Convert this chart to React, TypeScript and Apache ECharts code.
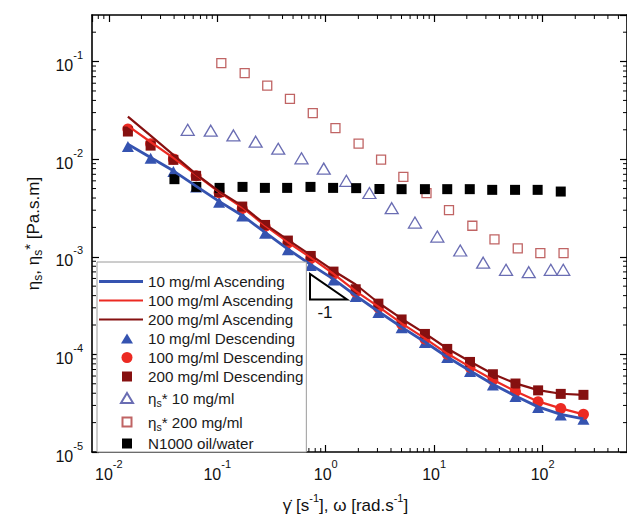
import React, { useEffect, useRef } from "react";
import * as echarts from "echarts";

const FONT = '"Liberation Sans", Arial, Helvetica, sans-serif';

// Steady shear sweeps (shear rate, s^-1) shared by the ascending / descending runs
const shearRate = [0.015, 0.0243, 0.0394, 0.0638, 0.104, 0.17, 0.276, 0.448, 0.728, 1.18, 1.89, 3.06, 5.01, 8.22, 13.2, 21.4, 34.8, 56.2, 90.9, 147, 238];

const asc10 = [0.0142, 0.0104, 0.0076, 0.0053, 0.0037, 0.00265, 0.00178, 0.0012, 0.00083, 0.00059, 0.0004, 0.000275, 0.00019, 0.000134, 0.000094, 0.000068, 0.0000495, 0.0000375, 0.000029, 0.0000243, 0.0000218];
const asc100 = [0.0219, 0.015, 0.0103, 0.0069, 0.0046, 0.0032, 0.00209, 0.00141, 0.00098, 0.00067, 0.000445, 0.000308, 0.000208, 0.000146, 0.000102, 0.0000745, 0.000055, 0.0000418, 0.000033, 0.000028, 0.0000243];
const asc200 = [0.0273, 0.01745, 0.01107, 0.00702, 0.00468, 0.00332, 0.00216, 0.00149, 0.00104, 0.00072, 0.00052, 0.000338, 0.000232, 0.000164, 0.000115, 0.0000845, 0.000063, 0.0000505, 0.000043, 0.0000395, 0.0000385];

const desc10 = [0.0135, 0.0102, 0.00746, 0.0052, 0.00362, 0.00261, 0.001745, 0.001178, 0.000813, 0.00058, 0.000391, 0.000269, 0.000188, 0.000132, 0.0000927, 0.0000667, 0.0000487, 0.000037, 0.0000285, 0.000024, 0.0000217];
const desc100 = [0.0204, 0.01435, 0.01007, 0.00675, 0.00452, 0.00313, 0.00205, 0.001387, 0.000963, 0.000661, 0.000437, 0.000303, 0.000205, 0.000144, 0.000101, 0.000074, 0.0000548, 0.0000416, 0.0000328, 0.0000279, 0.0000243];
const desc200 = [0.0192, 0.01377, 0.00984, 0.00675, 0.00459, 0.00327, 0.00212, 0.001466, 0.00102, 0.000705, 0.000465, 0.000331, 0.000228, 0.000162, 0.0001138, 0.0000837, 0.0000626, 0.0000503, 0.0000428, 0.0000394, 0.0000385];

// Oscillatory sweeps (angular frequency, rad/s)
const omega10 = [0.0534, 0.0871, 0.141, 0.226, 0.365, 0.598, 0.959, 1.55, 2.53, 4.06, 6.65, 10.7, 17.4, 28.3, 46.0, 74.5, 119, 155];
const etaStar10 = [0.02, 0.0196, 0.0175, 0.0151, 0.0128, 0.0102, 0.008, 0.006, 0.0045, 0.00315, 0.00224, 0.00161, 0.00116, 0.00087, 0.000735, 0.000695, 0.000735, 0.000735];
const omega200 = [0.109, 0.179, 0.289, 0.468, 0.76, 1.23, 2.01, 3.24, 5.2, 8.5, 13.7, 22.5, 36.0, 59.0, 95.3, 156];
const etaStar200 = [0.0964, 0.0761, 0.0568, 0.0415, 0.0296, 0.0208, 0.0144, 0.0099, 0.0066, 0.0045, 0.003, 0.00208, 0.00151, 0.00122, 0.00109, 0.00109];

// Reference oil/water interface
const oilRate = [0.0403, 0.0641, 0.105, 0.171, 0.275, 0.441, 0.724, 1.17, 1.91, 3.13, 5.01, 8.22, 13.2, 21.3, 34.3, 55.7, 90.0, 147];
const oilEta = [0.00624, 0.0052, 0.00508, 0.0052, 0.00508, 0.00508, 0.0052, 0.00508, 0.00505, 0.00495, 0.00493, 0.00493, 0.00493, 0.00493, 0.00485, 0.00485, 0.00485, 0.00466];

const X_MIN = 0.007;
const X_MAX = 600;
const Y_MIN = 1e-5;
const Y_MAX = 0.3;

const BLUE = "#3553b0";
const RED = "#ec2a22";
const DARK = "#861010";
const HOLLOW_BLUE = "#6a6db3";
const HOLLOW_RED = "#c06464";

const NAMES = {
  a10: "10 mg/ml Ascending",
  a100: "100 mg/ml Ascending",
  a200: "200 mg/ml Ascending",
  d10: "10 mg/ml Descending",
  d100: "100 mg/ml Descending",
  d200: "200 mg/ml Descending",
  e10: "ηs* 10 mg/ml",
  e200: "ηs* 200 mg/ml",
  oil: "N1000 oil/water",
};

const zip = (xs: number[], ys: number[]) => xs.map((x, i) => [x, ys[i]]);

// 2..9 x 10^k positions inside a range, for the minor tick marks of a log axis
function minorTicks(lo: number, hi: number) {
  const out: number[] = [];
  for (let k = -6; k <= 3; k++) {
    for (let m = 2; m <= 9; m++) {
      const v = m * Math.pow(10, k);
      if (v > lo * 1.0001 && v < hi * 0.9999) out.push(v);
    }
  }
  return out;
}

const powerLabel = (v: number) => {
  const l = Math.log10(v);
  const e = Math.round(l);
  if (Math.abs(l - e) > 1e-6) return "";
  return `{b|10}{s|${e}}`;
};

const powerRich = {
  b: { fontSize: 16, lineHeight: 24, verticalAlign: "bottom", fontFamily: FONT, color: "#111" },
  s: { fontSize: 11, lineHeight: 12, verticalAlign: "top", fontFamily: FONT, color: "#111" },
};

const TICK = { show: true, inside: true, length: 7, lineStyle: { color: "#000", width: 1.2 } };
const AXIS_LINE = { show: true, onZero: false, lineStyle: { color: "#000", width: 1.6 } };

// legend glyphs, drawn in a 44 x 11 item box (the two move-to points pin the box)
const BOX = "M0 0M44 11";
const lineIcon = (w: number) => `path://M0 0H44V${w}H0Z`;
const triIcon = `path://${BOX}M28 0.5L34 10.5H22Z`;
const circleIcon = `path://${BOX}M22.5 5.5a5.5 5.5 0 1 0 11 0a5.5 5.5 0 1 0 -11 0Z`;
const squareIcon = `path://${BOX}M23 0.5H33V10.5H23Z`;
const smallSquareIcon = `path://${BOX}M23.5 1H32.5V10H23.5Z`;

export default function App() {
  const ref = useRef<HTMLDivElement>(null);

  useEffect(() => {
    if (!ref.current) return;
    const chart = echarts.init(ref.current, undefined, { renderer: "svg" });

    const tickStyle = { stroke: "#000", lineWidth: 1 };
    const MINOR = 4;

    const option: any = {
      animation: false,
      backgroundColor: "#fff",
      grid: { left: 92, top: 15, right: -3, bottom: 70, containLabel: false },
      xAxis: [
        {
          type: "log",
          min: X_MIN,
          max: X_MAX,
          position: "bottom",
          axisLine: AXIS_LINE,
          axisTick: TICK,
          splitLine: { show: false },
          axisLabel: { formatter: powerLabel, rich: powerRich, margin: 6, showMinLabel: false, showMaxLabel: false },
          name: "{m|γ̇ [s}{sup|-1}{m|], ω [rad.s}{sup|-1}{m|]}",
          nameLocation: "middle",
          nameGap: 40,
          nameTextStyle: {
            padding: [0, 28, 0, 0],
            rich: {
              m: { fontSize: 17, lineHeight: 22, verticalAlign: "bottom", fontFamily: FONT, color: "#111" },
              sup: { fontSize: 11, lineHeight: 11, verticalAlign: "top", fontFamily: FONT, color: "#111" },
            },
          },
        },
        {
          type: "log",
          min: X_MIN,
          max: X_MAX,
          position: "top",
          axisLine: AXIS_LINE,
          axisTick: TICK,
          axisLabel: { show: false },
          splitLine: { show: false },
        },
      ],
      yAxis: [
        {
          type: "log",
          min: Y_MIN,
          max: Y_MAX,
          position: "left",
          axisLine: AXIS_LINE,
          axisTick: TICK,
          splitLine: { show: false },
          axisLabel: { formatter: powerLabel, rich: powerRich, margin: 9, showMinLabel: true, showMaxLabel: false },
          name: "{m|η}{sub|s}{m|, η}{sub|s}{sup|*}{m| [Pa.s.m]}",
          nameLocation: "middle",
          nameRotate: 90,
          nameGap: 48,
          nameTextStyle: {
            rich: {
              m: { fontSize: 17, lineHeight: 22, verticalAlign: "middle", fontFamily: FONT, color: "#111" },
              sub: { fontSize: 12, lineHeight: 10, verticalAlign: "bottom", fontFamily: FONT, color: "#111" },
              sup: { fontSize: 15, lineHeight: 10, verticalAlign: "top", fontFamily: FONT, color: "#111" },
            },
          },
        },
        {
          type: "log",
          min: Y_MIN,
          max: Y_MAX,
          position: "right",
          axisLine: AXIS_LINE,
          axisTick: TICK,
          axisLabel: { show: false },
          splitLine: { show: false },
        },
      ],
      legend: {
        data: [
          { name: NAMES.a10, icon: lineIcon(2.8) },
          { name: NAMES.a100, icon: lineIcon(2.2) },
          { name: NAMES.a200, icon: lineIcon(2.2) },
          { name: NAMES.d10, icon: triIcon },
          { name: NAMES.d100, icon: circleIcon },
          { name: NAMES.d200, icon: squareIcon },
          { name: NAMES.e10, icon: triIcon },
          { name: NAMES.e200, icon: smallSquareIcon },
          { name: NAMES.oil, icon: squareIcon },
        ],
        orient: "vertical",
        left: 97,
        top: 262,
        itemWidth: 44,
        itemHeight: 11,
        itemGap: 4,
        symbolKeepAspect: true,
        padding: [12, 3, 1, 1],
        backgroundColor: "#fff",
        borderColor: "#9a9a9a",
        borderWidth: 1,
        selectedMode: false,
        textStyle: {
          fontSize: 15.2,
          lineHeight: 15,
          color: "#1a1a1a",
          fontFamily: FONT,
          rich: {
            m: { fontSize: 15.2, lineHeight: 20, verticalAlign: "middle", fontFamily: FONT, color: "#1a1a1a" },
            sub: { fontSize: 10.5, lineHeight: 10, verticalAlign: "bottom", fontFamily: FONT, color: "#1a1a1a" },
          },
        },
        formatter: (name: string) => {
          if (name === NAMES.e10) return "{m|η}{sub|s}{m|* 10 mg/ml}";
          if (name === NAMES.e200) return "{m|η}{sub|s}{m|* 200 mg/ml}";
          return name;
        },
      },
      graphic: [
        {
          type: "polygon",
          shape: { points: [[310, 274], [310, 299.5], [347, 299.5]] },
          style: { fill: "none", stroke: "#000", lineWidth: 2 },
          z: 10,
        },
        {
          type: "text",
          x: 325,
          y: 312,
          style: { text: "-1", fontSize: 17, fontFamily: FONT, fill: "#111", textAlign: "center", textVerticalAlign: "middle" },
          z: 10,
        },
      ],
      series: [
        {
          type: "custom",
          silent: true,
          clip: false,
          data: minorTicks(X_MIN, X_MAX).map((v) => [v, Y_MIN]),
          renderItem: (_p: any, api: any) => {
            const v = api.value(0);
            const b = api.coord([v, Y_MIN]);
            const t = api.coord([v, Y_MAX]);
            return {
              type: "group",
              children: [
                { type: "line", shape: { x1: b[0], y1: b[1], x2: b[0], y2: b[1] - MINOR }, style: tickStyle },
                { type: "line", shape: { x1: t[0], y1: t[1], x2: t[0], y2: t[1] + MINOR }, style: tickStyle },
              ],
            };
          },
        },
        {
          type: "custom",
          silent: true,
          clip: false,
          data: minorTicks(Y_MIN, Y_MAX).map((v) => [X_MIN, v]),
          renderItem: (_p: any, api: any) => {
            const v = api.value(1);
            const l = api.coord([X_MIN, v]);
            const r = api.coord([X_MAX, v]);
            return {
              type: "group",
              children: [
                { type: "line", shape: { x1: l[0], y1: l[1], x2: l[0] + MINOR, y2: l[1] }, style: tickStyle },
                { type: "line", shape: { x1: r[0], y1: r[1], x2: r[0] - MINOR, y2: r[1] }, style: tickStyle },
              ],
            };
          },
        },
        {
          name: NAMES.a10,
          type: "line",
          data: zip(shearRate, asc10),
          symbol: "none",
          showSymbol: false,
          color: BLUE,
          lineStyle: { color: BLUE, width: 2.8 },
        },
        {
          name: NAMES.d10,
          type: "scatter",
          data: zip(shearRate, desc10),
          symbol: "triangle",
          symbolSize: [12, 11],
          itemStyle: { color: BLUE, opacity: 1 },
        },
        {
          name: NAMES.a100,
          type: "line",
          data: zip(shearRate, asc100),
          symbol: "none",
          showSymbol: false,
          color: RED,
          lineStyle: { color: RED, width: 2.2 },
        },
        {
          name: NAMES.d100,
          type: "scatter",
          data: zip(shearRate, desc100),
          symbol: "circle",
          symbolSize: 11,
          itemStyle: { color: RED, opacity: 1 },
        },
        {
          name: NAMES.a200,
          type: "line",
          data: zip(shearRate, asc200),
          symbol: "none",
          showSymbol: false,
          color: DARK,
          lineStyle: { color: DARK, width: 2.2 },
        },
        {
          name: NAMES.d200,
          type: "scatter",
          data: zip(shearRate, desc200),
          symbol: "rect",
          symbolSize: 10,
          itemStyle: { color: DARK, opacity: 1 },
        },
        {
          name: NAMES.e10,
          type: "scatter",
          data: zip(omega10, etaStar10),
          symbol: "triangle",
          symbolSize: [13, 11],
          itemStyle: { color: "rgba(255,255,255,0)", borderColor: HOLLOW_BLUE, borderWidth: 1.3, opacity: 1 },
        },
        {
          name: NAMES.e200,
          type: "scatter",
          data: zip(omega200, etaStar200),
          symbol: "rect",
          symbolSize: 9,
          itemStyle: { color: "rgba(255,255,255,0)", borderColor: HOLLOW_RED, borderWidth: 1.3, opacity: 1 },
        },
        {
          name: NAMES.oil,
          type: "scatter",
          data: zip(oilRate, oilEta),
          symbol: "rect",
          symbolSize: 10,
          itemStyle: { color: "#000", opacity: 1 },
        },
      ],
    };

    chart.setOption(option);
    return () => chart.dispose();
  }, []);

  return <div ref={ref} style={{ position: "absolute", left: 0, top: 0, width: 627, height: 522 }} />;
}
